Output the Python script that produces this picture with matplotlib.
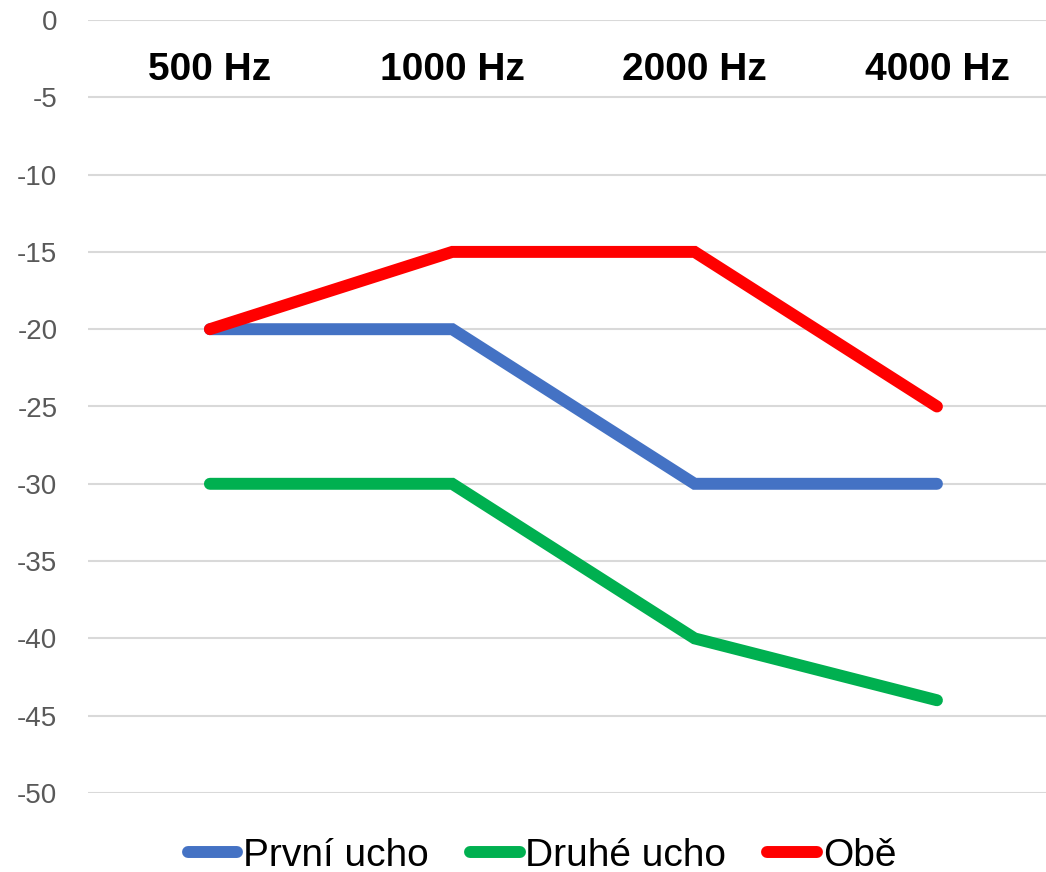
import matplotlib.pyplot as plt

plt.rcParams['font.family'] = ['Liberation Sans', 'DejaVu Sans']
plt.rcParams['axes.unicode_minus'] = False

categories = ["500 Hz", "1000 Hz", "2000 Hz", "4000 Hz"]
first_ear = [-20, -20, -30, -30]
second_ear = [-30, -30, -40, -44]
both = [-20, -15, -15, -25]
series_names = ["První ucho", "Druhé ucho", "Obě"]
colors = ["#4472C4", "#00B050", "#FF0000"]

fig = plt.figure(figsize=(10.46, 8.72), dpi=100)
ax = fig.add_axes([88 / 1046, 1 - 793 / 872, 1 - 88 / 1046, (793 - 20) / 872])

x = range(len(categories))
for vals, name, c in zip([first_ear, second_ear, both], series_names, colors):
    ax.plot(x, vals, color=c, lw=8.6, label=name,
            solid_capstyle="round", solid_joinstyle="miter")

# category labels sit inside the plot near the top
for i, cat in enumerate(categories):
    ax.text(i, -3.25, cat, ha="center", va="center", fontsize=28,
            fontweight="bold", color="black")

ax.set_xlim(-0.503, 3.45)
ax.set_ylim(-50, 0)
ax.set_yticks(range(-50, 1, 5))
ax.set_xticks([])
ax.yaxis.grid(True, color="#D9D9D9", lw=1.5)
ax.set_axisbelow(True)
ax.tick_params(axis="y", length=0, pad=22, labelsize=20, labelcolor="#595959")
for s in ax.spines.values():
    s.set_visible(False)

fig.legend(loc="center", bbox_to_anchor=(542 / 1046, 1 - 856 / 872), ncol=3,
           frameon=False, fontsize=28, handlelength=1.28, handletextpad=0.15,
           columnspacing=1.05, borderaxespad=0)

fig.savefig("out.png", dpi=100)
